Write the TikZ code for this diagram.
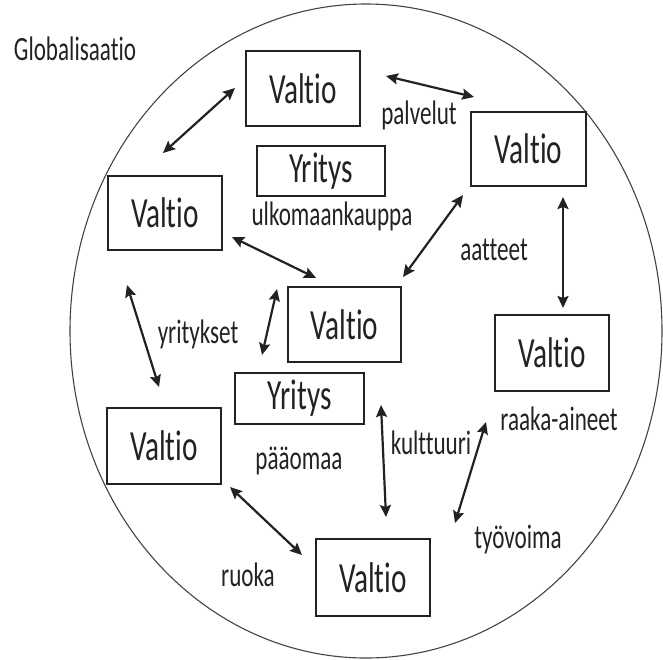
\documentclass[tikz,border=0pt]{standalone}
\usepackage{fontspec}
\setmainfont[FakeStretch=0.68,Ligatures={NoCommon,NoRare,NoContextual},RawFeature={-liga;-clig;-dlig}]{Carlito}
\usetikzlibrary{arrows.meta}
\definecolor{ink}{HTML}{222222}
\tikzset{
  box/.style={draw=ink, line width=1.9pt, fill=white, inner sep=0pt, font=\fontsize{43}{43}\selectfont, text=ink},
  lbl/.style={font=\fontsize{34}{34}\selectfont, text=ink, inner sep=0pt},
  link/.style={draw=ink, line width=2.2pt, {Stealth[length=12pt,width=11pt,inset=2pt]}-{Stealth[length=12pt,width=11pt,inset=2pt]}},
}
\begin{document}
\begin{tikzpicture}[x=1pt,y=-1pt]
\useasboundingbox (0,0) rectangle (663,659);
\draw[ink!85, line width=1.1pt] (366,331) ellipse [x radius=296, y radius=327];
% boxes
\node[box, minimum width=114pt, minimum height=75pt] (v1) at (303,88.5) {Valtio};
\node[box, minimum width=115pt, minimum height=74pt] (v2) at (528.5,149) {Valtio};
\node[box, minimum width=128pt, minimum height=50pt] (y1) at (321,171) {Yritys};
\node[box, minimum width=114pt, minimum height=74pt] (v3) at (165,213) {Valtio};
\node[box, minimum width=113pt, minimum height=75pt] (v4) at (344.5,324.5) {Valtio};
\node[box, minimum width=114pt, minimum height=76pt] (v5) at (552,353) {Valtio};
\node[box, minimum width=129pt, minimum height=51pt] (y2) at (299.5,398.5) {Yritys};
\node[box, minimum width=114pt, minimum height=76pt] (v6) at (164,446) {Valtio};
\node[box, minimum width=114pt, minimum height=77pt] (v7) at (373,577.5) {Valtio};
% labels
\node[lbl] (glob) at (75,49) {Globalisaatio};
\node[lbl] (palv) at (419,115) {palvelut};
\node[lbl] (ulko) at (332,216) {ulkomaankauppa};
\node[lbl] (aatt) at (494,250) {aatteet};
\node[lbl] (yrit) at (198,334) {yritykset};
\node[lbl] (raak) at (559,419) {raaka-aineet};
\node[lbl] (kult) at (431,443) {kulttuuri};
\node[lbl] (paao) at (299,461) {pääomaa};
\node[lbl] (tyov) at (518,540) {työvoima};
\node[lbl] (ruok) at (248,575) {ruoka};
% arrow end points
\coordinate (a1s) at (163,153); \coordinate (a1e) at (235,88);
\coordinate (a2s) at (386,76);  \coordinate (a2e) at (474,97);
\coordinate (a3s) at (232,237); \coordinate (a3e) at (316,278);
\coordinate (a4s) at (463,195); \coordinate (a4e) at (403,277);
\coordinate (a5s) at (563,197); \coordinate (a5e) at (563,308);
\coordinate (a6s) at (127,285); \coordinate (a6e) at (159,387);
\coordinate (a7s) at (277,289); \coordinate (a7e) at (262,355);
\coordinate (a8s) at (381,405); \coordinate (a8e) at (386,517);
\coordinate (a9s) at (486,422); \coordinate (a9e) at (455,523);
\coordinate (a10s) at (230,487); \coordinate (a10e) at (302,555);
\draw[link] (a1s) -- (a1e);
\draw[link] (a2s) -- (a2e);
\draw[link] (a3s) -- (a3e);
\draw[link] (a4s) -- (a4e);
\draw[link] (a5s) -- (a5e);
\draw[link] (a6s) -- (a6e);
\draw[link] (a7s) -- (a7e);
\draw[link] (a8s) -- (a8e);
\draw[link] (a9s) -- (a9e);
\draw[link] (a10s) -- (a10e);
\end{tikzpicture}
\end{document}
